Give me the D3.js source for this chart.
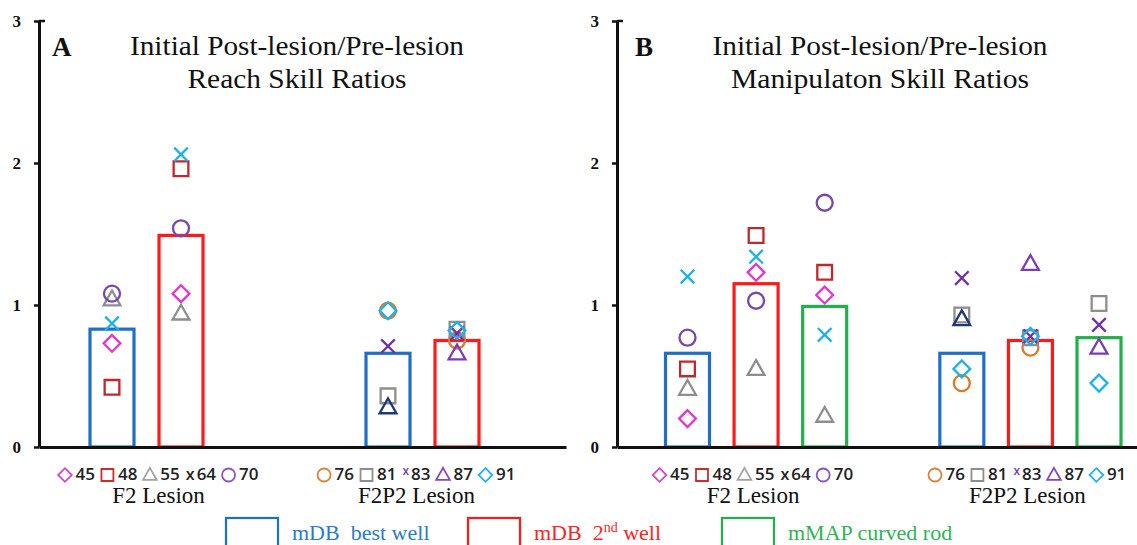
<!DOCTYPE html>
<html><head><meta charset="utf-8">
<script src="https://cdn.jsdelivr.net/npm/d3@7"></script>
<style>body{margin:0;background:#fff} svg{display:block}</style>
</head><body><svg id="c" width="1137" height="545"></svg>
<script>
// ---------------- DATA ----------------
const groups = ["F2 Lesion", "F2P2 Lesion"];
const wellsA = ["mDB best well", "mDB 2nd well"];
const wellsB = ["mDB best well", "mDB 2nd well", "mMAP curved rod"];
const legendWells = ["mDB  best well", "mDB  2nd well", "mMAP curved rod"];
const animalsF2 = ["45", "48", "55", "64", "70"];
const animalsF2P2 = ["76", "81", "83", "87", "91"];
const yTicks = [0, 1, 2, 3];
const titleA = ["Initial Post-lesion/Pre-lesion", "Reach Skill Ratios"];
const titleB = ["Initial Post-lesion/Pre-lesion", "Manipulaton Skill Ratios"];

// Panel A (reach) bar heights [group][well]
const barsA = [[0.83, 1.49], [0.66, 0.75]];
// individual ratios [well][animal]
const reachF2 = [[0.73, 0.42, 1.04, 0.87, 1.08], [1.08, 1.96, 0.94, 2.06, 1.54]];
const reachF2P2 = [[0.96, 0.36, 0.71, 0.28, 0.96], [0.75, 0.83, 0.80, 0.66, 0.82]];
// Panel B (manipulation)
const barsB = [[0.66, 1.15, 0.99], [0.66, 0.75, 0.77]];
const manipF2 = [[0.20, 0.55, 0.41, 1.20, 0.77], [1.23, 1.49, 0.55, 1.34, 1.03], [1.07, 1.23, 0.22, 0.79, 1.72]];
const manipF2P2 = [[0.45, 0.93, 1.19, 0.90, 0.55], [0.70, 0.77, 0.78, 1.29, 0.78], [null, 1.01, 0.86, 0.70, 0.45]];

// ---------------- STYLE ----------------
const shapesF2 = ["diamond", "square", "triangle", "cross", "circle"];
const shapesF2P2 = ["circle", "square", "cross", "triangle", "diamond"];
const wellColors = ["#1f6fc6", "#ff1a1a", "#22b04c"];
const legendTextColors = ["#2a7cc8", "#ff2424", "#2fb455"];
const colorsF2 = ["#e236cf", "#c2272d", "#8e8e8e", "#1cb1ec", "#7747ae"];
const colorsF2P2 = ["#d97b2c", "#8e8e8e", "#7330a6", "#7a3db2", "#1cb1ec"];
const bestWellTriangleF2P2 = "#1d3a78";
const labelColorsF2 = ["#cf4cc3", "#cf2b2b", "#a3a3a3", "#222", "#8b55c3"];
const labelColorsF2P2 = ["#d9833d", "#8e8e8e", "#7a3fb5", "#8646c2", "#25b0ef"];

const svg = d3.select("#c");
const y = d3.scaleLinear().domain([0, 3]).range([447, 21]);
const serif = "'Liberation Serif','Times New Roman',serif";
const sans = "'Open Sans','Noto Sans',sans-serif";

function shapePath(shape, s) {
  const p = d3.path();
  if (shape === "circle") { p.moveTo(s, 0); p.arc(0, 0, s, 0, 2 * Math.PI); }
  else if (shape === "square") { const h = s * 0.92; p.rect(-h, -h, 2 * h, 2 * h); }
  else if (shape === "diamond") { const h = s * 1.05; p.moveTo(0, -h); p.lineTo(h, 0); p.lineTo(0, h); p.lineTo(-h, 0); p.closePath(); }
  else if (shape === "triangle") { const w = s * 1.05; p.moveTo(0, -s * 1.1); p.lineTo(w, s * 0.75); p.lineTo(-w, s * 0.75); p.closePath(); }
  else if (shape === "cross") { const h = s * 0.85; p.moveTo(-h, -h); p.lineTo(h, h); p.moveTo(-h, h); p.lineTo(h, -h); }
  return p.toString();
}

function panel(cfg) {
  const g = svg.append("g");
  const nW = cfg.wells.length;
  const slot = (gi, wi) => gi * (nW + cfg.gap) + wi;
  const maxSlot = slot(groups.length - 1, nW - 1);
  const x = d3.scaleLinear().domain([0, maxSlot]).range(cfg.xRange);
  const bw = 44;

  // bars
  const barData = [];
  cfg.bars.forEach((arr, gi) => arr.forEach((v, wi) => barData.push({ gi, wi, v })));
  g.selectAll("rect.bar").data(barData).join("rect")
    .attr("x", d => x(slot(d.gi, d.wi)) - bw / 2)
    .attr("y", d => y(d.v))
    .attr("width", bw)
    .attr("height", d => y(0) - y(d.v))
    .attr("fill", "#fff")
    .attr("stroke", d => wellColors[d.wi])
    .attr("stroke-width", 3.2);

  // markers
  const pts = [];
  cfg.points.forEach((wellArr, gi) => wellArr.forEach((vals, wi) => vals.forEach((v, ai) => {
    if (v == null) return;
    const shape = gi === 0 ? shapesF2[ai] : shapesF2P2[ai];
    let color = gi === 0 ? colorsF2[ai] : colorsF2P2[ai];
    if (gi === 1 && wi === 0 && shape === "triangle") color = bestWellTriangleF2P2;
    pts.push({ gi, wi, ai, v, shape, color });
  })));
  g.selectAll("path.pt").data(pts).join("path")
    .attr("transform", d => `translate(${x(slot(d.gi, d.wi))},${y(d.v)})`)
    .attr("d", d => shapePath(d.shape, 8))
    .attr("fill", "none")
    .attr("stroke", d => d.color)
    .attr("stroke-width", 2.3);

  // x axis baseline
  const xb = d3.scaleLinear().domain([0, 1]).range([cfg.axisX, cfg.axisEnd]);
  const xa = g.append("g").attr("transform", `translate(0,${y(0)})`)
    .call(d3.axisBottom(xb).tickValues([]).tickSizeOuter(0));
  xa.select(".domain").attr("stroke", "#111").attr("stroke-width", 3);

  // y axis
  const ya = g.append("g").attr("transform", `translate(${cfg.axisX},0)`)
    .call(d3.axisLeft(y).tickValues(yTicks).tickFormat(d3.format("d")).tickSize(5).tickPadding(13).tickSizeOuter(0));
  ya.select(".domain").attr("stroke", "#111").attr("stroke-width", 3);
  ya.selectAll(".tick line").attr("stroke", "#111").attr("stroke-width", 2.5);
  ya.selectAll(".tick text").attr("font-family", serif).attr("font-weight", "bold")
    .attr("font-size", 17).attr("fill", "#111");
  g.append("line").attr("x1", cfg.axisX).attr("x2", cfg.axisX + 6)
    .attr("y1", y(3)).attr("y2", y(3)).attr("stroke", "#111").attr("stroke-width", 2.5);

  // panel letter + title
  g.append("text").attr("x", cfg.letterX).attr("y", 56).text(cfg.letter)
    .attr("font-family", serif).attr("font-weight", "bold").attr("font-size", 27).attr("fill", "#111");
  cfg.title.forEach((t, i) => {
    g.append("text").attr("x", cfg.titleX).attr("y", 55 + i * 33).attr("text-anchor", "middle")
      .attr("font-family", serif).attr("font-size", 27).attr("fill", "#111")
      .attr("textLength", cfg.titleWidths[i]).attr("lengthAdjust", "spacingAndGlyphs").text(t);
  });

  // group labels with animal keys
  groups.forEach((gname, gi) => {
    const cx = (x(slot(gi, 0)) + x(slot(gi, nW - 1))) / 2 + cfg.labelShift[gi];
    g.append("text").attr("x", cx).attr("y", 503).attr("text-anchor", "middle")
      .attr("font-family", serif).attr("font-size", 23).attr("fill", "#111").text(gname);
    const row = g.append("g");
    const animals = gi === 0 ? animalsF2 : animalsF2P2;
    const shapes = gi === 0 ? shapesF2 : shapesF2P2;
    const cols = gi === 0 ? labelColorsF2 : labelColorsF2P2;
    let cur = 0;
    animals.forEach((a, ai) => {
      const sh = shapes[ai];
      if (sh === "cross") {
        const isText = gi === 0;
        const t = row.append("text").attr("x", cur).attr("y", isText ? 480 : 475)
          .attr("font-family", sans).attr("font-weight", 600)
          .attr("font-size", isText ? 16 : 12).attr("fill", cols[ai]).text("x");
        cur += t.node().getComputedTextLength() + 2;
      } else {
        const s = 6.5;
        row.append("path").attr("transform", `translate(${cur + s},475)`)
          .attr("d", shapePath(sh, s)).attr("fill", "none").attr("stroke", cols[ai]).attr("stroke-width", 1.8);
        cur += 2 * s + 4;
      }
      const t = row.append("text").attr("x", cur).attr("y", 480)
        .attr("font-family", sans).attr("font-weight", 600).attr("font-size", 17).attr("fill", "#222").text(a);
      cur += t.node().getComputedTextLength() + 6;
    });
    row.attr("transform", `translate(${cx - (cur - 6) / 2},0)`);
  });
}

panel({ letter: "A", letterX: 52, title: titleA, titleX: 297, titleWidths: [334, 219], wells: wellsA, gap: 2,
  xRange: [112, 457], axisX: 39, axisEnd: 566, bars: barsA, points: [reachF2, reachF2P2],
  labelShift: [12, -6] });
panel({ letter: "B", letterX: 635, title: titleB, titleX: 880, titleWidths: [335, 298], wells: wellsB, gap: 1,
  xRange: [687.5, 1099], axisX: 617, axisEnd: 1137, bars: barsB, points: [manipF2, manipF2P2],
  labelShift: [-3, -3] });

// legend
const lx = d3.scalePoint().domain(legendWells).range([226, 722]);
const lg = svg.append("g");
legendWells.forEach((w, i) => {
  const x0 = lx(w) - (i === 1 ? 6 : 0);
  lg.append("rect").attr("x", x0).attr("y", 518).attr("width", 52).attr("height", 40)
    .attr("fill", "none").attr("stroke", wellColors[i]).attr("stroke-width", 2.2);
  const t = lg.append("text").attr("x", x0 + 66).attr("y", 540).attr("font-family", serif)
    .attr("font-size", 22).attr("fill", legendTextColors[i]).attr("xml:space", "preserve");
  const m = w.match(/^(.*\d)(st|nd|rd|th)(.*)$/);
  if (m) {
    t.append("tspan").text(m[1]);
    t.append("tspan").attr("dy", -8).attr("font-size", 14).text(m[2]);
    t.append("tspan").attr("dy", 8).text(m[3]);
  } else t.text(w);
});
</script></body></html>
